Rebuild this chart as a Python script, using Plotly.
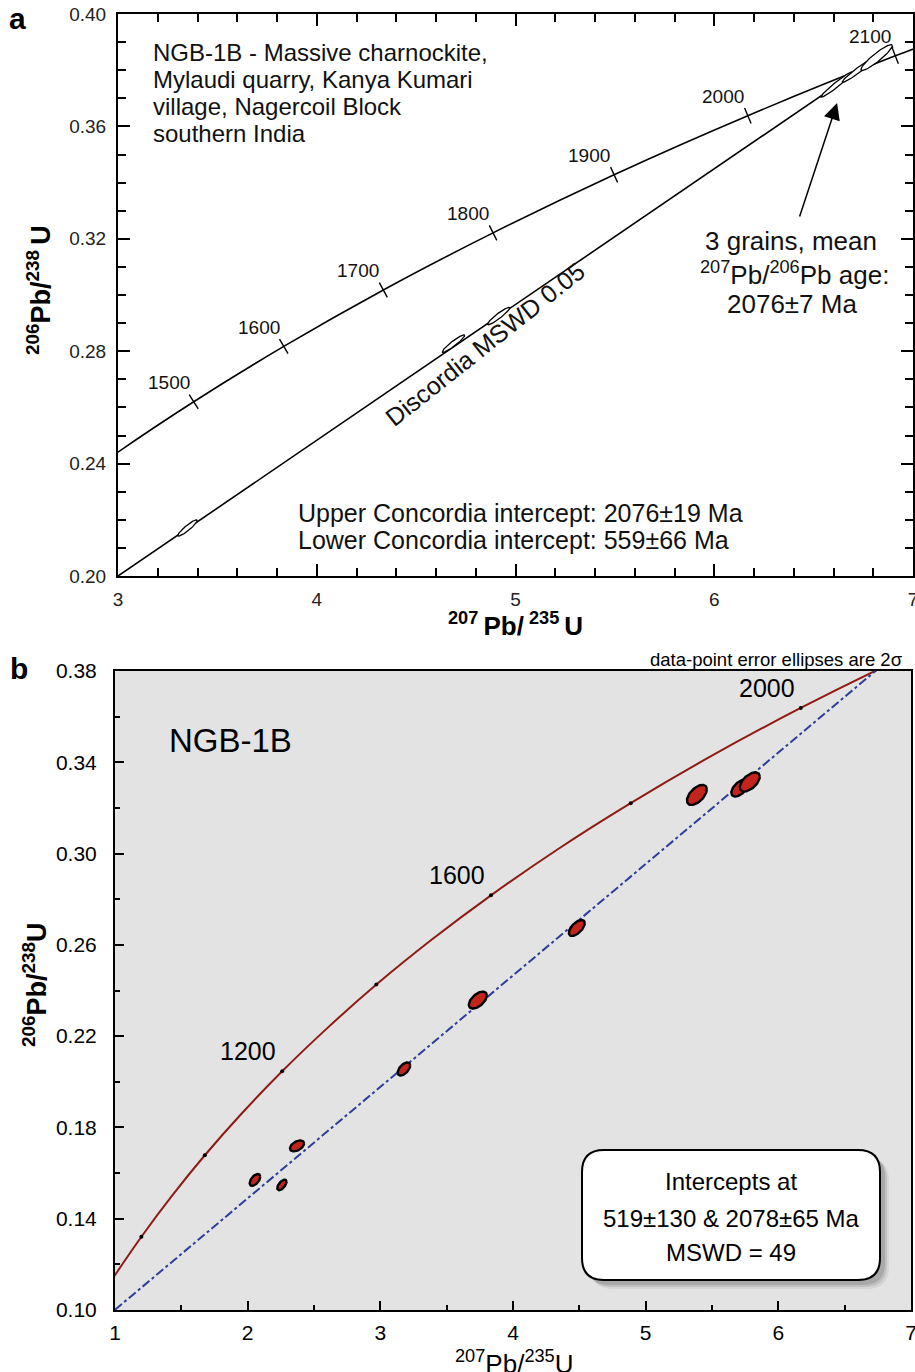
import numpy as np
import plotly.graph_objects as go

W, H = 915, 1372
FONT = "Liberation Sans, Arial, Helvetica, sans-serif"

# ---------------- data ----------------
# Concordia reference points (age in Ma)
conc_age = [700, 800, 900, 1000, 1100, 1200, 1300, 1400, 1500, 1600, 1700, 1800, 1900, 2000, 2100, 2200]
conc_x = [0.993, 1.199, 1.426, 1.677, 1.955, 2.260, 2.598, 2.970, 3.381, 3.834, 4.335, 4.887, 5.496, 6.169, 6.911, 7.729]
conc_y = [0.1147, 0.1321, 0.1498, 0.1678, 0.1861, 0.2046, 0.2234, 0.2426, 0.2620, 0.2817, 0.3018, 0.3221,
          0.3428, 0.3638, 0.3851, 0.4068]

# Panel a
a_label_ages = [1500, 1600, 1700, 1800, 1900, 2000, 2100]
a_disc_x = [3.0, 6.90]
a_disc_y = [0.200, 0.3884]
a_ell_x = [3.350, 4.688, 4.915, 6.616, 6.729, 6.817]
a_ell_y = [0.2171, 0.2827, 0.2925, 0.3749, 0.3802, 0.3845]
a_ell_sx = [0.049, 0.056, 0.056, 0.079, 0.085, 0.079]
a_ell_sy = [0.0029, 0.0031, 0.0031, 0.0045, 0.0045, 0.0046]
a_ell_rho = [0.92, 0.935, 0.935, 0.97, 0.968, 0.92]

# Panel b
b_dot_ages = [800, 1000, 1200, 1400, 1600, 1800, 2000]
b_label_ages = [1200, 1600, 2000]
b_disc_x = [1.0, 6.74]
b_disc_y = [0.1001, 0.3804]
b_ell_x = [2.055, 2.258, 2.372, 3.178, 3.735, 4.481, 5.386, 5.710, 5.785]
b_ell_y = [0.1570, 0.1548, 0.1719, 0.2056, 0.2358, 0.2674, 0.3257, 0.3287, 0.3314]
b_ell_sx = [0.040, 0.035, 0.053, 0.047, 0.068, 0.060, 0.075, 0.064, 0.075]
b_ell_sy = [0.0026, 0.0023, 0.0024, 0.0029, 0.0037, 0.0035, 0.0044, 0.0037, 0.0042]
b_ell_rho = [0.55, 0.6, 0.45, 0.55, 0.55, 0.6, 0.55, 0.55, 0.55]

# ---------------- layout geometry ----------------
def pxx(x):
    return x / W

def pxy(y):
    return 1 - y / H

a_dom_x = [pxx(118), pxx(913)]
a_dom_y = [pxy(576), pxy(14)]
b_dom_x = [pxx(115), pxx(911)]
b_dom_y = [pxy(1310), pxy(671)]
a_rx, a_ry = [3, 7], [0.20, 0.40]
b_rx, b_ry = [1, 7], [0.10, 0.38]


def ellipse(cx, cy, sx, sy, rho, n=80):
    t = np.linspace(0, 2 * np.pi, n)
    x = cx + sx * np.cos(t)
    y = cy + sy * (rho * np.cos(t) + np.sqrt(1 - rho ** 2) * np.sin(t))
    return x, y


fig = go.Figure()

# ---------- panel a ----------
fig.add_trace(go.Scatter(x=conc_x, y=conc_y, mode="lines", line=dict(color="black", width=1.6, shape="spline"),
                         xaxis="x", yaxis="y", hoverinfo="skip", showlegend=False))
fig.add_trace(go.Scatter(x=a_disc_x, y=a_disc_y, mode="lines", line=dict(color="black", width=1.6),
                         xaxis="x", yaxis="y", hoverinfo="skip", showlegend=False))
for cx, cy, sx, sy, r in zip(a_ell_x, a_ell_y, a_ell_sx, a_ell_sy, a_ell_rho):
    ex, ey = ellipse(cx, cy, sx, sy, r)
    fig.add_trace(go.Scatter(x=ex, y=ey, mode="lines", fill="toself", fillcolor="white",
                             line=dict(color="black", width=1.3), xaxis="x", yaxis="y",
                             hoverinfo="skip", showlegend=False))

# concordia age ticks in panel a (perpendicular to curve)
sx_a = (a_dom_x[1] - a_dom_x[0]) * W / (a_rx[1] - a_rx[0])
sy_a = (a_dom_y[1] - a_dom_y[0]) * H / (a_ry[1] - a_ry[0])
tick_x, tick_y, tick_ang = [], [], []
for age in a_label_ages:
    i = conc_age.index(age)
    dx = (conc_x[i + 1] - conc_x[i - 1]) * sx_a
    dy = (conc_y[i + 1] - conc_y[i - 1]) * sy_a
    th = np.degrees(np.arctan2(dy, dx))
    tick_x.append(conc_x[i])
    tick_y.append(conc_y[i])
    tick_ang.append(-th)
fig.add_trace(go.Scatter(x=tick_x, y=tick_y, mode="markers",
                         marker=dict(symbol="line-ns", size=12, angle=tick_ang,
                                     line=dict(color="black", width=1.4)),
                         xaxis="x", yaxis="y", hoverinfo="skip", showlegend=False))

# ---------- panel b ----------
fig.add_trace(go.Scatter(x=conc_x, y=conc_y, mode="lines", line=dict(color="#8e1b14", width=2, shape="spline"),
                         xaxis="x2", yaxis="y2", hoverinfo="skip", showlegend=False))
fig.add_trace(go.Scatter(x=b_disc_x, y=b_disc_y, mode="lines",
                         line=dict(color="#2e3d9c", width=2, dash="dashdot"),
                         xaxis="x2", yaxis="y2", hoverinfo="skip", showlegend=False))
dot_x = [conc_x[conc_age.index(a)] for a in b_dot_ages]
dot_y = [conc_y[conc_age.index(a)] for a in b_dot_ages]
fig.add_trace(go.Scatter(x=dot_x, y=dot_y, mode="markers", marker=dict(color="black", size=4),
                         xaxis="x2", yaxis="y2", hoverinfo="skip", showlegend=False))
for cx, cy, sx, sy, r in zip(b_ell_x, b_ell_y, b_ell_sx, b_ell_sy, b_ell_rho):
    ex, ey = ellipse(cx, cy, sx, sy, r)
    fig.add_trace(go.Scatter(x=ex, y=ey, mode="lines", fill="toself", fillcolor="#c3241b",
                             line=dict(color="black", width=2.4), xaxis="x2", yaxis="y2",
                             hoverinfo="skip", showlegend=False))

# ---------- axes ----------
tickfont_a = dict(family=FONT, size=19, color="#222")
tickfont_b = dict(family=FONT, size=21, color="black")
common = dict(showgrid=False, zeroline=False, showline=True, linecolor="black", linewidth=2,
              ticks="inside", tickcolor="black", tickwidth=1.5, automargin=False,
              ticklabeloverflow="allow")

layout = dict(
    width=W, height=H, margin=dict(l=0, r=0, t=0, b=0, autoexpand=False),
    paper_bgcolor="white", plot_bgcolor="white", showlegend=False,
    xaxis=dict(domain=a_dom_x, range=a_rx, anchor="y", dtick=1, ticklen=12, mirror="ticks",
               tickfont=tickfont_a, ticklabelstandoff=5,
               minor=dict(dtick=0.2, ticks="inside", ticklen=8, tickcolor="black", tickwidth=1.5), **common),
    yaxis=dict(domain=a_dom_y, range=a_ry, anchor="x", dtick=0.04, tick0=0.2, tickformat=".2f", ticklen=12,
               mirror="ticks", tickfont=tickfont_a, ticklabelstandoff=6,
               minor=dict(dtick=0.01, tick0=0.2, ticks="inside", ticklen=8, tickcolor="black", tickwidth=1.5),
               **common),
    xaxis2=dict(domain=b_dom_x, range=b_rx, anchor="y2", dtick=1, ticklen=9, mirror=True,
                tickfont=tickfont_b, ticklabelstandoff=3,
                minor=dict(dtick=0.5, ticks="inside", ticklen=5, tickcolor="black", tickwidth=1.5), **common),
    yaxis2=dict(domain=b_dom_y, range=b_ry, anchor="x2", dtick=0.04, tick0=0.10, tickformat=".2f", ticklen=9,
                mirror=True, tickfont=tickfont_b, ticklabelstandoff=12,
                minor=dict(dtick=0.02, tick0=0.10, ticks="inside", ticklen=5, tickcolor="black", tickwidth=1.5),
                **common),
)
fig.update_layout(**layout)

shapes = []
# panel b grey background
shapes.append(dict(type="rect", xref="x2 domain", yref="y2 domain", x0=0, x1=1, y0=0, y1=1,
                   fillcolor="#e3e3e3", line=dict(width=0), layer="below"))


def rounded_path(x0, y0, x1, y1, r):
    # pixel coords -> paper path
    def P(x, y):
        return f"{pxx(x):.5f},{pxy(y):.5f}"
    return (f"M {P(x0 + r, y0)} L {P(x1 - r, y0)} Q {P(x1, y0)} {P(x1, y0 + r)} "
            f"L {P(x1, y1 - r)} Q {P(x1, y1)} {P(x1 - r, y1)} L {P(x0 + r, y1)} "
            f"Q {P(x0, y1)} {P(x0, y1 - r)} L {P(x0, y0 + r)} Q {P(x0, y0)} {P(x0 + r, y0)} Z")


for k, alpha in [(9, 0.06), (7, 0.09), (5, 0.13)]:
    shapes.append(dict(type="path", xref="paper", yref="paper",
                       path=rounded_path(582 + k, 1150 + k, 880 + k, 1280 + k, 22),
                       fillcolor=f"rgba(0,0,0,{alpha})", line=dict(width=0)))
shapes.append(dict(type="path", xref="paper", yref="paper", path=rounded_path(582, 1150, 880, 1280, 22),
                   fillcolor="white", line=dict(color="black", width=2)))
fig.update_layout(shapes=shapes)

ann = []


def text(x, y, s, size, xanchor="center", yanchor="middle", bold=False, angle=0, align="center", color="black"):
    if bold:
        s = f"<b>{s}</b>"
    ann.append(dict(x=pxx(x), y=pxy(y), xref="paper", yref="paper", text=s, showarrow=False,
                    xanchor=xanchor, yanchor=yanchor, textangle=angle, align=align,
                    font=dict(family=FONT, size=size, color=color)))


# panel letters
text(7, 18, "a", 30, bold=True, xanchor="left")
text(8, 668, "b", 30, bold=True, xanchor="left")

# panel a texts
for k, line in enumerate(["NGB-1B - Massive charnockite,", "Mylaudi quarry, Kanya Kumari",
                          "village, Nagercoil Block", "southern India"]):
    text(151, 53 + 27 * k, line, 24, xanchor="left", color="#111")
text(296, 513, "Upper Concordia intercept: 2076±19 Ma", 25, xanchor="left", color="#111")
text(296, 540, "Lower Concordia intercept: 559±66 Ma", 25, xanchor="left", color="#111")
text(485, 344, "Discordia MSWD 0.05", 25, angle=-38.5, color="#111")
text(791, 241, "3 grains, mean", 26, color="#111")
text(794, 274, "<sup>207</sup>Pb/<sup>206</sup>Pb age:", 26, color="#111")
text(792, 304, "2076±7 Ma", 26, color="#111")
text(515, 624, "<sup>207 </sup>Pb/<sup> 235 </sup>U", 26, bold=True)
text(39, 290, "<sup>206</sup>Pb/<sup>238 </sup>U", 27, bold=True, angle=-90)

# concordia age labels panel a
for age in a_label_ages:
    i = conc_age.index(age)
    ann.append(dict(x=conc_x[i], y=conc_y[i], xref="x", yref="y", text=str(age), showarrow=False,
                    xshift=-25, yshift=19, font=dict(family=FONT, size=19, color="#111")))

# arrow panel a
ann.append(dict(x=6.618, y=0.3683, xref="x", yref="y", ax=6.427, ay=0.3274, axref="x", ayref="y",
                text="", showarrow=True, arrowhead=2, arrowsize=2.2, arrowwidth=1.5, arrowcolor="black"))

# panel b texts
text(230, 740, "NGB-1B", 33)
text(905, 659, "data-point error ellipses are 2σ", 18.5, xanchor="right")
text(514, 1362, "<sup>207</sup>Pb/<sup>235</sup>U", 26)
text(35, 985, "<sup>206</sup>Pb/<sup>238</sup>U", 27, bold=True, angle=-90)
for age in b_label_ages:
    i = conc_age.index(age)
    ann.append(dict(x=conc_x[i], y=conc_y[i], xref="x2", yref="y2", text=str(age), showarrow=False,
                    xshift=-34, yshift=20, font=dict(family=FONT, size=25, color="black")))
text(731, 1181, "Intercepts at", 24)
text(731, 1218, "519±130 & 2078±65 Ma", 24)
text(731, 1252, "MSWD = 49", 24)

fig.update_layout(annotations=ann)
fig.write_html("out.html", config={"displayModeBar": False},
               post_script="document.body.style.margin='0';document.body.style.padding='0';"
                           "document.documentElement.style.overflow='hidden';")
